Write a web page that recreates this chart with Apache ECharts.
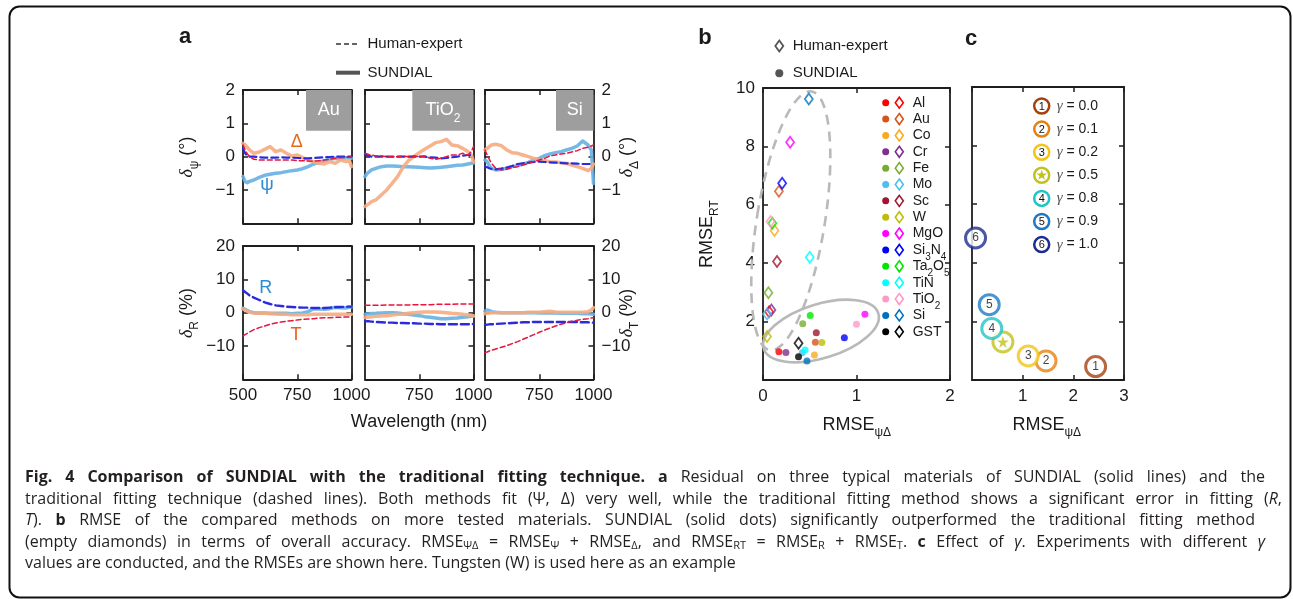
<!DOCTYPE html>
<html>
<head>
<meta charset="utf-8">
<script src="https://cdn.jsdelivr.net/npm/echarts@6/dist/echarts.min.js"></script>
<style>
html, body { margin:0; padding:0; background:#fff; }
#chart { position:absolute; left:0; top:0; width:1293px; height:599px; }
#caption { position:absolute; left:25px; top:466px; font-family:"Open Sans", sans-serif; font-size:16px; line-height:21.5px; color:#231f20; }
#caption .ln { text-align:justify; text-align-last:justify; white-space:nowrap; }
#caption .last { text-align:left; text-align-last:left; }
#caption sub { font-size:11px; vertical-align:-2px; line-height:0; }
</style>
</head>
<body>
<div id="chart"></div>
<div id="caption">
  <div class="ln" style="width:1240px"><b>Fig. 4 Comparison of SUNDIAL with the traditional fitting technique.</b> <b>a</b> Residual on three typical materials of SUNDIAL (solid lines) and the</div>
  <div class="ln" style="width:1257px">traditional fitting technique (dashed lines). Both methods fit (Ψ, Δ) very well, while the traditional fitting method shows a significant error in fitting (<i>R</i>,</div>
  <div class="ln" style="width:1230px"><i>T</i>). <b>b</b> RMSE of the compared methods on more tested materials. SUNDIAL (solid dots) significantly outperformed the traditional fitting method</div>
  <div class="ln" style="width:1240px">(empty diamonds) in terms of overall accuracy. RMSE<sub>ΨΔ</sub> = RMSE<sub>Ψ</sub> + RMSE<sub>Δ</sub>, and RMSE<sub>RT</sub> = RMSE<sub>R</sub> + RMSE<sub>T</sub>. <b>c</b> Effect of <i>γ</i>. Experiments with different <i>γ</i></div>
  <div class="ln last">values are conducted, and the RMSEs are shown here. Tungsten (W) is used here as an example</div>
</div>
<script>
// ---- panel a : residuals vs wavelength (nm) ----
var wavelength = [500,510,520,530,550,575,600,625,650,675,700,725,750,775,800,825,850,875,900,925,950,975,990,1000];

// Au
var auPsiSundial = [-0.6,-0.75,-0.78,-0.74,-0.7,-0.62,-0.56,-0.53,-0.5,-0.48,-0.45,-0.42,-0.4,-0.36,-0.3,-0.22,-0.17,-0.12,-0.08,-0.05,-0.08,-0.03,-0.04,-0.05];
var auDelSundial = [0.4,0.35,0.28,0.2,0.1,0.14,0.22,0.3,0.15,0.2,0.1,0.02,0.05,-0.03,-0.1,-0.15,-0.2,-0.22,-0.15,-0.2,-0.1,-0.15,-0.12,-0.3];
var auPsiExpert = [0.25,0.1,0.02,0,0,-0.02,-0.03,-0.03,-0.03,-0.02,-0.03,-0.03,-0.04,-0.05,-0.05,-0.04,-0.03,-0.02,-0.01,0,0,0,0,0];
var auDelExpert = [0.35,0.2,0.08,0,-0.08,-0.1,-0.1,-0.1,-0.1,-0.1,-0.1,-0.1,-0.12,-0.12,-0.13,-0.14,-0.12,-0.1,-0.08,-0.05,-0.03,-0.02,-0.01,0];
var auRSundial = [1.3,1,0.6,0.3,0,-0.1,-0.1,-0.2,-0.2,-0.2,-0.2,-0.3,-0.2,-0.1,0.3,1.2,1.1,1,1.2,1.6,1.5,1.4,1.6,1.7];
var auTSundial = [1.2,0.8,0.4,0.1,-0.1,-0.2,-0.2,-0.3,-0.4,-0.5,-0.5,-0.6,-0.6,-0.6,-0.6,-0.5,-0.5,-0.5,-0.5,-0.5,-0.5,-0.5,-0.5,-0.5];
var auRExpert = [6.7,6.2,5.7,5.2,4.5,3.8,3.1,2.6,2.2,2.0,1.8,1.7,1.6,1.5,1.5,1.4,1.4,1.4,1.5,1.6,1.7,1.8,1.8,1.8];
var auTExpert = [-7,-6.6,-6.2,-5.8,-5.1,-4.5,-4,-3.5,-3.1,-2.8,-2.6,-2.4,-2.2,-2,-1.9,-1.8,-1.6,-1.5,-1.5,-1.4,-1.4,-1.3,-1.3,-1.3];

// TiO2
var tiPsiSundial = [-0.6,-0.5,-0.45,-0.4,-0.35,-0.3,-0.28,-0.28,-0.29,-0.3,-0.3,-0.31,-0.32,-0.33,-0.34,-0.33,-0.32,-0.3,-0.28,-0.26,-0.25,-0.22,-0.2,-0.2];
var tiDelSundial = [-1.5,-1.45,-1.4,-1.35,-1.3,-1.15,-1.0,-0.8,-0.6,-0.32,-0.12,0,0.12,0.22,0.32,0.42,0.45,0.52,0.35,0.33,0.25,0.15,0.05,-0.15];
var tiPsiExpert = [0.08,0.04,0.02,0,0,0,0,0,0,0,0,0,0,0,-0.02,-0.03,-0.05,-0.04,-0.02,0,0.03,0.05,0.05,0.05];
var tiDelExpert = [0.1,0.08,0.06,0.05,0.02,0.02,0,0,0,0.02,0,0.02,0,0.02,-0.05,-0.08,-0.05,0,0.05,0.05,0.1,0.05,0.15,0.3];
var tiRSundial = [-0.5,-0.4,-0.3,-0.25,-0.2,-0.1,0,0,-0.1,-0.3,-0.5,-0.7,-0.9,-1.2,-1.4,-1.6,-1.8,-1.8,-1.7,-1.6,-1.4,-1.2,-1.1,-1];
var tiTSundial = [-1.5,-1.4,-1.3,-1.2,-1.1,-1,-0.9,-0.7,-0.5,-0.4,-0.2,0,0.1,0.2,0.2,0.2,0.1,0,-0.2,-0.3,-0.5,-0.7,-0.8,-1];
var tiRExpert = [-2.5,-2.6,-2.6,-2.7,-2.8,-2.9,-3,-3,-3.1,-3.1,-3.2,-3.2,-3.3,-3.3,-3.4,-3.4,-3.5,-3.5,-3.5,-3.5,-3.5,-3.5,-3.4,-3.4];
var tiTExpert = [2.2,2.2,2.2,2.2,2.2,2.2,2.3,2.3,2.3,2.3,2.3,2.4,2.4,2.4,2.4,2.5,2.5,2.5,2.5,2.6,2.6,2.6,2.6,2.6];

// Si
var siPsiSundial = [-0.1,-0.15,-0.28,-0.35,-0.4,-0.38,-0.35,-0.3,-0.27,-0.22,-0.17,-0.1,-0.05,0.03,0.08,0.12,0.15,0.2,0.25,0.32,0.47,0.35,0.2,-0.8];
var siDelSundial = [0.2,0.25,0.3,0.35,0.37,0.33,0.2,0.12,0.1,0.05,0,-0.05,-0.1,-0.12,-0.15,-0.16,-0.18,-0.2,-0.25,-0.3,-0.35,-0.42,-0.35,-0.22];
var siPsiExpert = [-0.3,-0.32,-0.35,-0.37,-0.38,-0.36,-0.33,-0.28,-0.22,-0.2,-0.18,-0.16,-0.15,-0.16,-0.17,-0.18,-0.19,-0.2,-0.2,-0.21,-0.22,-0.22,-0.22,-0.22];
var siDelExpert = [0.2,0.05,-0.08,-0.2,-0.35,-0.4,-0.38,-0.33,-0.3,-0.25,-0.2,-0.15,-0.1,-0.05,0.02,0.05,0.08,0.1,0.14,0.18,0.25,0.28,0.32,0.35];
var siRSundial = [0.5,0.8,0.6,0.3,0.1,0,0,0,0,0,0,0,-0.1,-0.1,-0.1,-0.1,-0.2,-0.2,-0.2,-0.2,-0.3,-0.3,-0.4,-0.5];
var siTSundial = [-0.3,-0.2,-0.1,0,0,0,0,0,0,0,0.1,0.1,0.1,0.3,0.4,0.2,0.1,0.1,0.1,0.1,0.1,0.3,0.8,1.5];
var siRExpert = [-3.7,-3.6,-3.5,-3.5,-3.4,-3.3,-3.2,-3.1,-3,-2.9,-2.9,-2.8,-2.8,-2.8,-2.8,-2.8,-2.8,-2.8,-2.8,-2.8,-2.9,-2.9,-3,-3];
var siTExpert = [-12,-11.8,-11.5,-11.3,-10.9,-10.4,-9.9,-9.3,-8.7,-8,-7.3,-6.6,-5.9,-5.2,-4.6,-4,-3.5,-3,-2.6,-2.3,-2,-1.8,-1.6,-1.5];

var wlTicks = [500, 1000, 250];
var psiTicks = [-2, 2, 1];
var rtTicks = [-20, 20, 10];

// ---- panel b : RMSE per material ----
var materials = ['Al','Au','Co','Cr','Fe','Mo','Sc','W','MgO','Si3N4','Ta2O5','TiN','TiO2','Si','GST'];
var sundialPsiDel = [0.17,0.56,0.55,0.245,0.425,0.42,0.57,0.63,1.09,0.87,0.505,0.45,1.0,0.47,0.38];
var sundialRT     = [0.97,1.29,0.86,0.94,1.93,0.93,1.62,1.28,2.25,1.45,2.21,1.03,1.91,0.65,0.80];
var expertPsiDel  = [0.065,0.17,0.123,0.09,0.058,0.043,0.15,0.043,0.29,0.205,0.10,0.50,0.08,0.49,0.38];
var expertRT      = [2.34,6.46,5.12,2.4,2.99,2.26,4.06,1.49,8.14,6.74,5.37,4.2,5.43,9.62,1.26];
var matColors = ['#ff0000','#d95319','#f5ac22','#7e2f8e','#77ac30','#4dbeee','#a2142f','#bdbd0e','#ff00ff','#0000ff','#00e600','#00ffff','#ff99c8','#0072bd','#000000'];

// ---- panel c : effect of gamma (W) ----
var gammas = ['0.0','0.1','0.2','0.5','0.8','0.9','1.0'];
var gammaMarks = ['1','2','3','','4','5','6'];
var gammaPsiDel = [2.44,1.46,1.11,0.61,0.39,0.34,0.07];
var gammaRT = [0.46,0.65,0.82,1.30,1.76,2.57,4.85];
var gammaColors = ['#a3420f','#e8800f','#f3c417','#c2c21c','#22c3c6','#1c79c8','#1c2d8f'];
var rmseTicksB = [0, 2, 1];
var rmseTicksC = [0, 3, 1];
var rmseRTTicks = [0, 10, 2];

var FONT = '"Liberation Sans", Arial, sans-serif';
var INK = '#1e1e1e';
var STAR = 'path://M50,0 L61.8,35.4 L99,35.4 L69,57.3 L80.4,92.7 L50,70.8 L19.6,92.7 L31,57.3 L1,35.4 L38.2,35.4 Z';

var grids = [], xAxes = [], yAxes = [], series = [];
function minus(v) { return String(v).replace('-', '\u2212'); }

function addGrid(box, xr, yr, lab) {
  var gi = grids.length;
  grids.push({ left: box[0], top: box[1], width: box[2], height: box[3], containLabel: false, outerBoundsMode: 'none' });
  function axis(r, pos, show, showMin) {
    return {
      gridIndex: gi, type: 'value', position: pos, min: r[0], max: r[1], interval: r[2],
      splitLine: { show: false },
      axisLine: { show: true, onZero: false, lineStyle: { color: INK, width: 1.8 } },
      axisTick: { show: true, inside: true, length: 5, lineStyle: { color: INK, width: 1.5 } },
      axisLabel: { show: show, showMinLabel: showMin, color: '#1a1a1a', fontSize: 17, fontFamily: FONT, margin: 8, formatter: minus }
    };
  }
  xAxes.push(axis(xr, 'bottom', !!lab.x, lab.xMin !== false));
  xAxes.push(axis(xr, 'top', false, true));
  yAxes.push(axis(yr, 'left', !!lab.yl, false));
  yAxes.push(axis(yr, 'right', !!lab.yr, false));
  return gi;
}

function wlLine(gi, ys, color, width, dash, opacity) {
  series.push({
    type: 'line', xAxisIndex: gi * 2, yAxisIndex: gi * 2, showSymbol: false, symbol: 'none', silent: true,
    data: wavelength.map(function (x, i) { return [x, ys[i]]; }),
    lineStyle: { color: color, width: width, type: dash || 'solid', opacity: opacity || 1, cap: 'round', join: 'round' }
  });
}

var S_BLUE = '#66b0e2', S_ORANGE = '#f6ab80', H_BLUE = '#2b2bdc', H_RED = '#e3173f';
var topSets = [
  [auPsiSundial, auDelSundial, auPsiExpert, auDelExpert],
  [tiPsiSundial, tiDelSundial, tiPsiExpert, tiDelExpert],
  [siPsiSundial, siDelSundial, siPsiExpert, siDelExpert]
];
var botSets = [
  [auRSundial, auTSundial, auRExpert, auTExpert],
  [tiRSundial, tiTSundial, tiRExpert, tiTExpert],
  [siRSundial, siTSundial, siRExpert, siTExpert]
];
var aLefts = [243, 365, 485];
aLefts.forEach(function (l, k) {
  var g = addGrid([l, 90, 108.5, 133.3], wlTicks, psiTicks, { yl: k === 0, yr: k === 2 });
  var d = topSets[k];
  wlLine(g, d[0], S_BLUE, 3.5, 'solid', 0.9);
  wlLine(g, d[1], S_ORANGE, 3.5, 'solid', 0.9);
  wlLine(g, d[2], H_BLUE, 2.2, [7, 4]);
  wlLine(g, d[3], H_RED, 1.5, [5, 3]);
});
aLefts.forEach(function (l, k) {
  var g = addGrid([l, 246, 108.5, 133.3], wlTicks, rtTicks, { x: true, xMin: k === 0, yl: k === 0, yr: k === 2 });
  var d = botSets[k];
  wlLine(g, d[0], S_BLUE, 3.5, 'solid', 0.9);
  wlLine(g, d[1], S_ORANGE, 3.5, 'solid', 0.9);
  wlLine(g, d[2], H_BLUE, 2.4, [8, 4]);
  wlLine(g, d[3], H_RED, 1.5, [5, 3]);
});

// panel b
var gb = addGrid([763, 88, 187, 292], rmseTicksB, rmseRTTicks, { x: true, yl: true });
series.push({
  type: 'scatter', xAxisIndex: gb * 2, yAxisIndex: gb * 2, symbol: 'diamond', symbolSize: [8, 11], silent: true, z: 3,
  data: materials.map(function (m, i) {
    return { value: [expertPsiDel[i], expertRT[i]], itemStyle: { color: 'rgba(255,255,255,0)', borderColor: matColors[i], borderWidth: 1.8 } };
  })
});
series.push({
  type: 'scatter', xAxisIndex: gb * 2, yAxisIndex: gb * 2, symbol: 'circle', symbolSize: 7, silent: true, z: 4,
  data: materials.map(function (m, i) {
    return { value: [sundialPsiDel[i], sundialRT[i]], itemStyle: { color: matColors[i] } };
  })
});

// panel c
var gc = addGrid([972, 87, 152, 293], rmseTicksC, rmseRTTicks, { x: true, xMin: false });
series.push({
  type: 'scatter', xAxisIndex: gc * 2, yAxisIndex: gc * 2, symbol: 'circle', symbolSize: 20, silent: true, clip: false, z: 3,
  data: gammas.map(function (g, i) {
    return { value: [gammaPsiDel[i], gammaRT[i]], itemStyle: { color: '#fff', borderColor: gammaColors[i], borderWidth: 3 } };
  }),
  label: { show: true, position: 'inside', color: '#111', fontSize: 12, fontFamily: FONT,
    formatter: function (p) { return gammaMarks[p.dataIndex]; } }
});
series.push({
  type: 'scatter', xAxisIndex: gc * 2, yAxisIndex: gc * 2, symbol: STAR, symbolSize: 12, silent: true, z: 4,
  data: gammas.map(function (g, i) { return gammaMarks[i] === '' ? [gammaPsiDel[i], gammaRT[i]] : null; }).filter(Boolean),
  itemStyle: { color: gammaColors[3] }
});

// ---- graphic: frame, titles, legends, annotations ----
var gfx = [];
function txt(x, y, text, o) {
  o = o || {};
  gfx.push({
    type: 'text', x: x, y: y, rotation: o.rot || 0, z: 20,
    style: {
      text: text, fill: o.color || '#1a1a1a', fontSize: o.size || 17, fontFamily: o.family || FONT,
      fontWeight: o.weight || 'normal', fontStyle: o.style || 'normal',
      textAlign: o.align || 'center', textVerticalAlign: 'middle', rich: o.rich
    }
  });
}
function subRich(size, color) {
  return {
    n: { fontSize: size, fontFamily: FONT, fill: color || '#1a1a1a', lineHeight: size + 10, verticalAlign: 'middle' },
    d: { fontSize: size, fontFamily: '"Liberation Serif", serif', fontStyle: 'italic', fill: color || '#1a1a1a', lineHeight: size + 10, verticalAlign: 'middle' },
    s: { fontSize: Math.round(size * 0.68), fontFamily: FONT, fill: color || '#1a1a1a', lineHeight: Math.round(size * 0.68) + 2, verticalAlign: 'bottom' }
  };
}

gfx.push({ type: 'rect', z: 0, shape: { x: 9.5, y: 6.5, width: 1281, height: 591, r: 10 }, style: { fill: 'none', stroke: '#111', lineWidth: 2 } });

txt(185, 37, 'a', { size: 22, weight: 'bold' });
txt(705, 38, 'b', { size: 22, weight: 'bold' });
txt(971, 39, 'c', { size: 22, weight: 'bold' });

// panel a legend
gfx.push({ type: 'line', z: 20, shape: { x1: 336, y1: 44, x2: 360, y2: 44 }, style: { stroke: '#333', lineWidth: 1.5, lineDash: [5, 3] } });
gfx.push({ type: 'line', z: 20, shape: { x1: 336, y1: 72.7, x2: 360, y2: 72.7 }, style: { stroke: '#555', lineWidth: 4 } });
txt(367.5, 44, 'Human-expert', { size: 15, align: 'left' });
txt(367.5, 72.7, 'SUNDIAL', { size: 15, align: 'left' });

// material tags
[[306, 'Au'], [412.3, '{n|TiO}{s|2}'], [556, 'Si']].forEach(function (t, k) {
  var right = aLefts[k] + 108.5;
  gfx.push({ type: 'rect', z: 15, shape: { x: t[0], y: 90, width: right - t[0], height: 40.7 }, style: { fill: '#9e9e9e' } });
  txt((t[0] + right) / 2, 110.5, t[1], { size: 18, color: '#fff', rich: subRich(18, '#fff') });
});

txt(296.7, 142, 'Δ', { size: 18, color: '#e36a1d' });
txt(267, 185, 'ψ', { size: 19, color: '#2d8cd4' });
txt(265.7, 288, 'R', { size: 18, color: '#2d8cd4' });
txt(296, 335, 'T', { size: 18, color: '#e8601c' });

txt(187, 157, '{d|δ}{s|ψ}{n| (°)}', { rot: Math.PI / 2, rich: subRich(18) });
txt(627, 157, '{d|δ}{s|Δ}{n| (°)}', { rot: Math.PI / 2, rich: subRich(18) });
txt(187, 313, '{d|δ}{s|R}{n| (%)}', { rot: Math.PI / 2, rich: subRich(18) });
txt(627, 313, '{d|δ}{s|T}{n| (%)}', { rot: Math.PI / 2, rich: subRich(18) });
txt(419, 422, 'Wavelength (nm)', { size: 18 });

// panel b legends
gfx.push({ type: 'ellipse', z: 1, x: 790.8, y: 220.8, rotation: -0.16, shape: { cx: 0, cy: 0, rx: 34, ry: 131 }, style: { fill: 'none', stroke: '#b9b9b9', lineWidth: 2.6, lineDash: [10, 7] } });
gfx.push({ type: 'ellipse', z: 1, x: 821, y: 331, rotation: 0.30, shape: { cx: 0, cy: 0, rx: 60, ry: 27 }, style: { fill: 'none', stroke: '#b9b9b9', lineWidth: 2.6 } });

function diamond(cx, cy, color, w) {
  gfx.push({ type: 'polygon', z: 20, shape: { points: [[cx, cy - 5.5], [cx + 4, cy], [cx, cy + 5.5], [cx - 4, cy]] }, style: { fill: 'none', stroke: color, lineWidth: w || 1.8 } });
}
diamond(779.3, 46, '#555', 1.8);
txt(792.7, 46, 'Human-expert', { size: 15, align: 'left' });
gfx.push({ type: 'circle', z: 20, shape: { cx: 779.3, cy: 73.3, r: 4 }, style: { fill: '#555' } });
txt(792.7, 73.3, 'SUNDIAL', { size: 15, align: 'left' });

var matLabels = { Si3N4: '{n|Si}{s|3}{n|N}{s|4}', Ta2O5: '{n|Ta}{s|2}{n|O}{s|5}', TiO2: '{n|TiO}{s|2}' };
materials.forEach(function (m, i) {
  var y = 102.7 + i * 16.36;
  gfx.push({ type: 'circle', z: 20, shape: { cx: 885.7, cy: y, r: 3.5 }, style: { fill: matColors[i] } });
  diamond(899.3, y, matColors[i], 1.6);
  txt(912.7, y, matLabels[m] || '{n|' + m + '}', { size: 14, align: 'left', rich: subRich(14) });
});
txt(707, 234, '{n|RMSE}{s|RT}', { rot: Math.PI / 2, rich: subRich(18) });
txt(856.7, 425, '{n|RMSE}{s|ψΔ}', { rich: subRich(18) });

// panel c legend
gammas.forEach(function (g, i) {
  var y = 106 + i * 23.1;
  gfx.push({ type: 'circle', z: 20, shape: { cx: 1041.7, cy: y, r: 7.5 }, style: { fill: '#fff', stroke: gammaColors[i], lineWidth: 2.5 } });
  if (gammaMarks[i] === '') {
    gfx.push({ type: 'polygon', z: 21, shape: { points: [[1041.7, y - 5.5], [1043, y - 1.7], [1047, y - 1.7], [1043.8, y + 0.7], [1045, y + 4.5], [1041.7, y + 2.2], [1038.4, y + 4.5], [1039.6, y + 0.7], [1036.4, y - 1.7], [1040.4, y - 1.7]] }, style: { fill: gammaColors[i] } });
  } else {
    txt(1041.7, y + 0.5, gammaMarks[i], { size: 11, color: '#111' });
  }
  txt(1056.7, y, '{g|γ}{n| = ' + g + '}', { align: 'left', rich: {
    g: { fontSize: 15, fontFamily: '"Liberation Serif", serif', fontStyle: 'italic', fill: '#555' },
    n: { fontSize: 14, fontFamily: FONT, fill: '#1a1a1a' } } });
});
txt(1046.7, 425, '{n|RMSE}{s|ψΔ}', { rich: subRich(18) });

var chart = echarts.init(document.getElementById('chart'), null, { renderer: 'canvas' });
chart.setOption({
  animation: false,
  backgroundColor: '#fff',
  grid: grids,
  xAxis: xAxes,
  yAxis: yAxes,
  series: series,
  graphic: { elements: gfx }
});
</script>
</body>
</html>
